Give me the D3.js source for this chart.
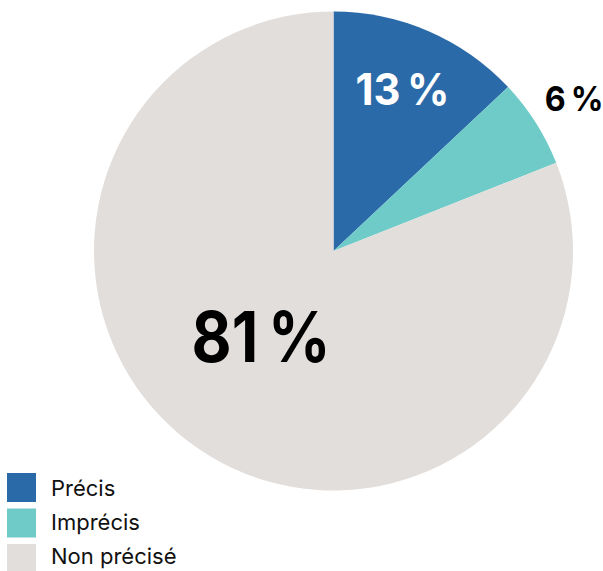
<!DOCTYPE html>
<html>
<head>
<meta charset="utf-8">
<script src="https://cdn.jsdelivr.net/npm/d3@7"></script>
<style>
  html, body { margin: 0; padding: 0; background: #fff; }
  svg { display: block; font-family: Inter, "Liberation Sans", sans-serif; }
</style>
</head>
<body>
<svg id="chart" width="603" height="571"></svg>
<script>
// Répartition des réponses
const categories = ["Précis", "Imprécis", "Non précisé"];
const values = [13, 6, 81];
const valueLabels = ["13\u202F%", "6\u202F%", "81\u202F%"];
const colors = ["#2b6aa9", "#6ecbc8", "#e2dedc"];

const svg = d3.select("#chart");
const cx = 333.5, cy = 251, R = 239.5;

const data = categories.map((c, i) => ({ name: c, value: values[i], label: valueLabels[i], color: colors[i] }));

const pie = d3.pie().value(d => d.value).sort(null);
const arcs = pie(data);
const arc = d3.arc().innerRadius(0).outerRadius(R);

const g = svg.append("g").attr("transform", `translate(${cx},${cy})`);
g.selectAll("path.slice")
  .data(arcs)
  .join("path")
  .attr("class", "slice")
  .attr("d", arc)
  .attr("fill", d => d.data.color);

// label placement: radius from centre, angular shift (deg), font size, horizontal squeeze, colour
const labelStyle = [
  { r: 176, shift: -0.3, size: 44, sx: 0.95, fill: "#ffffff" },
  { r: 285, shift: 0, size: 34, sx: 0.95, fill: "#000000" },
  { r: 112, shift: 6.1, size: 70, sx: 0.88, fill: "#000000" }
];

g.selectAll("text.value")
  .data(arcs)
  .join("text")
  .attr("class", "value")
  .each(function (d, i) {
    const s = labelStyle[i];
    const a = (d.startAngle + d.endAngle) / 2 + s.shift * Math.PI / 180;
    const x = s.r * Math.sin(a);
    const y = -s.r * Math.cos(a) + s.size * 0.727 / 2;
    d3.select(this)
      .attr("transform", `translate(${x},${y}) scale(${s.sx},1)`)
      .attr("text-anchor", "middle")
      .attr("font-size", s.size)
      .attr("font-weight", 700)
      .attr("letter-spacing", -s.size * 0.04)
      .attr("fill", s.fill)
      .text(d.data.label);
  });

// legend
const legend = svg.append("g").attr("transform", "translate(7,0)");
const item = legend.selectAll("g.item")
  .data(data)
  .join("g")
  .attr("class", "item");
item.append("rect")
  .attr("y", (d, i) => 473 + i * 35.5)
  .attr("width", 29).attr("height", 29)
  .attr("fill", d => d.color);
item.append("text")
  .attr("x", 44)
  .attr("y", (d, i) => 496 + i * 34)
  .attr("font-size", 22)
  .attr("fill", "#111")
  .text(d => d.name);
</script>
</body>
</html>
